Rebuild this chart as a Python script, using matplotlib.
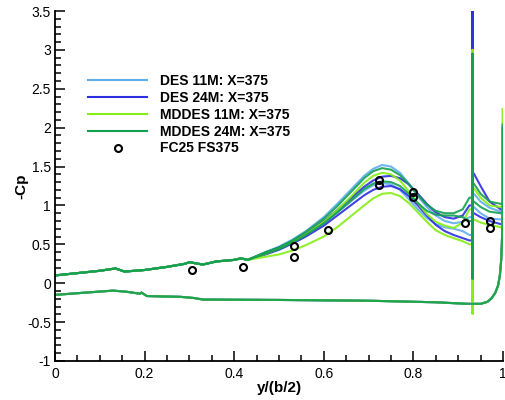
import matplotlib
matplotlib.use("Agg")
import matplotlib.pyplot as plt
from matplotlib.lines import Line2D
from matplotlib.ticker import MultipleLocator

plt.rcParams['font.family'] = ['Liberation Sans', 'DejaVu Sans']

# ---- data ----
series_names = ["DES 11M: X=375", "DES 24M: X=375", "MDDES 11M: X=375", "MDDES 24M: X=375"]
series_colors = ["#5FAEF0", "#2E2EE0", "#86EE14", "#14A050"]

# upper surface, inboard of the spike
x_up_head = [0.00, 0.05, 0.10, 0.135, 0.155, 0.20, 0.25, 0.29, 0.30, 0.33, 0.36, 0.40, 0.415, 0.43]
y_up_head = [0.10, 0.13, 0.16, 0.19, 0.15, 0.17, 0.21, 0.25, 0.27, 0.24, 0.28, 0.30, 0.32, 0.30]
x_up_tail = [0.47, 0.50, 0.53, 0.56, 0.60, 0.63, 0.66, 0.69, 0.71, 0.73, 0.75, 0.77,
             0.79, 0.81, 0.83, 0.85, 0.87, 0.89, 0.91, 0.925]
des11_a = [0.40, 0.47, 0.56, 0.67, 0.85, 1.02, 1.20, 1.38, 1.47, 1.52, 1.50, 1.42, 1.28, 1.12, 0.98, 0.87, 0.80, 0.77, 0.79, 0.85]
des11_b = [0.38, 0.44, 0.52, 0.62, 0.77, 0.91, 1.05, 1.19, 1.26, 1.29, 1.27, 1.20, 1.08, 0.95, 0.84, 0.76, 0.72, 0.70, 0.67, 0.62]
des24_a = [0.39, 0.46, 0.54, 0.64, 0.80, 0.94, 1.09, 1.24, 1.32, 1.37, 1.38, 1.35, 1.27, 1.15, 1.02, 0.91, 0.85, 0.83, 0.87, 1.00]
des24_b = [0.37, 0.43, 0.51, 0.60, 0.74, 0.87, 1.00, 1.13, 1.20, 1.24, 1.25, 1.21, 1.12, 1.00, 0.87, 0.75, 0.67, 0.62, 0.58, 0.55]
mdd11_a = [0.38, 0.45, 0.53, 0.63, 0.79, 0.94, 1.11, 1.29, 1.38, 1.42, 1.40, 1.32, 1.18, 1.03, 0.89, 0.79, 0.74, 0.71, 0.78, 0.95]
mdd11_b = [0.34, 0.37, 0.42, 0.49, 0.60, 0.72, 0.86, 1.00, 1.09, 1.15, 1.16, 1.12, 1.03, 0.91, 0.79, 0.68, 0.62, 0.58, 0.54, 0.50]
mdd24_a = [0.40, 0.46, 0.55, 0.66, 0.83, 0.99, 1.17, 1.35, 1.44, 1.48, 1.46, 1.39, 1.27, 1.13, 1.01, 0.93, 0.90, 0.90, 0.95, 1.10]
mdd24_b = [0.38, 0.44, 0.52, 0.62, 0.77, 0.91, 1.06, 1.21, 1.28, 1.31, 1.30, 1.25, 1.15, 1.03, 0.93, 0.88, 0.87, 0.87, 0.85, 0.80]

# spike location and extremes
x_spike = 0.932
spike_top = [2.90, 3.60, 3.00, 2.95]
spike_bot = [0.05, 0.05, -0.39, 0.06]

# outboard of spike
x_out = [0.935, 0.95, 0.97, 0.995]
des11_out_a = [1.15, 1.05, 0.97, 0.92]
des11_out_b = [0.98, 0.90, 0.83, 0.82]
des24_out_a = [1.41, 1.25, 1.05, 0.95]
des24_out_b = [0.90, 0.85, 0.80, 0.76]
mdd11_out_a = [1.22, 1.10, 1.00, 0.98]
mdd11_out_b = [0.82, 0.78, 0.75, 0.72]
mdd24_out_a = [1.28, 1.15, 1.05, 1.02]
mdd24_out_b = [1.05, 0.98, 0.92, 0.90]

# lower surface
x_low = [0.00, 0.07, 0.13, 0.16, 0.19, 0.193, 0.205, 0.28, 0.31, 0.33, 0.50, 0.70, 0.85, 0.92,
         0.95, 0.965, 0.975, 0.983, 0.989, 0.993, 0.996, 0.998, 0.999]
y_low = [-0.15, -0.12, -0.095, -0.11, -0.135, -0.12, -0.165, -0.175, -0.19, -0.21, -0.215, -0.225, -0.245, -0.265,
         -0.265, -0.24, -0.19, -0.12, -0.03, 0.10, 0.30, 0.60, 1.00]
tip_top = [2.00, 2.00, 2.24, 2.04]

# experiment
x_exp = [0.305, 0.419, 0.533, 0.533, 0.61, 0.724, 0.724, 0.80, 0.80, 0.915, 0.972, 0.972]
y_exp = [0.167, 0.21, 0.48, 0.34, 0.69, 1.33, 1.26, 1.17, 1.105, 0.77, 0.80, 0.71]

upper_a = [des11_a, des24_a, mdd11_a, mdd24_a]
upper_b = [des11_b, des24_b, mdd11_b, mdd24_b]
out_a = [des11_out_a, des24_out_a, mdd11_out_a, mdd24_out_a]
out_b = [des11_out_b, des24_out_b, mdd11_out_b, mdd24_out_b]

# ---- plot ----
fig = plt.figure(figsize=(5.06, 4.0), dpi=100)
ax = fig.add_axes([55 / 506, 39 / 400, 448 / 506, 350 / 400])

lw = 1.5
for i in range(4):
    c = series_colors[i]
    for ups, outs in ((upper_b[i], out_b[i]), (upper_a[i], out_a[i])):
        xs = x_up_head + x_up_tail + [x_spike, x_spike, x_spike, x_spike] + x_out
        ys = y_up_head + ups + [ups[-1], spike_top[i], spike_bot[i], outs[0]] + outs
        ax.plot(xs, ys, color=c, lw=lw, alpha=0.9, solid_joinstyle='round')
    ax.plot(x_low + [x_low[-1]], y_low + [tip_top[i]], color=c, lw=lw, alpha=0.9)

ax.plot(x_exp, y_exp, linestyle='none', marker='o', ms=5, mfc='none', mec='black', mew=1.5, zorder=5)

ax.set_xlim(0, 1)
ax.set_ylim(-1, 3.5)
ax.xaxis.set_minor_locator(MultipleLocator(0.05))
ax.yaxis.set_minor_locator(MultipleLocator(0.1))
ax.set_xticks([0, 0.2, 0.4, 0.6, 0.8, 1.0])
ax.set_xticklabels(["0", "0.2", "0.4", "0.6", "0.8", "1"])
ax.set_yticks([-1, -0.5, 0, 0.5, 1, 1.5, 2, 2.5, 3, 3.5])
ax.set_yticklabels(["-1", "-0.5", "0", "0.5", "1", "1.5", "2", "2.5", "3", "3.5"])
ax.tick_params(which='both', direction='in', labelsize=10, width=1.1)
ax.tick_params(which='major', length=7)
ax.tick_params(which='minor', length=4)
ax.tick_params(axis='x', pad=4)
ax.tick_params(axis='y', pad=3)
for s in ('top', 'right'):
    ax.spines[s].set_visible(False)
for s in ('left', 'bottom'):
    ax.spines[s].set_linewidth(1.3)

ax.set_xlabel("y/(b/2)", fontsize=11, fontweight='bold', labelpad=0)
ax.set_ylabel("-Cp", fontsize=11, fontweight='bold', labelpad=-1)

handles = [Line2D([], [], color=c, lw=lw) for c in series_colors]
handles.append(Line2D([], [], linestyle='none', marker='o', ms=5, mfc='none', mec='black', mew=1.5))
labels = series_names + ["FC25 FS375"]
leg = ax.legend(handles, labels, loc='upper left', bbox_to_anchor=(0.045, 0.855), frameon=False,
                handlelength=4.3, handletextpad=0.9, labelspacing=0.2,
                prop={'weight': 'bold', 'size': 10})

fig.savefig("out.png", dpi=100)
